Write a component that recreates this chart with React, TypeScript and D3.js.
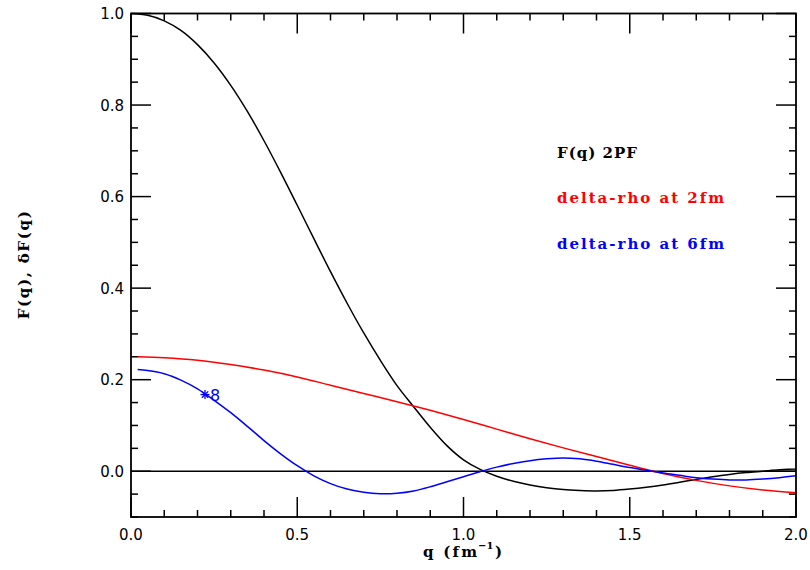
import React from "react";
import * as d3 from "d3";

const qBlack = [0, 0.05, 0.1, 0.15, 0.2, 0.25, 0.3, 0.35, 0.4, 0.45, 0.5, 0.55, 0.6, 0.65, 0.7, 0.75, 0.8, 0.85, 0.9, 0.95, 1.0, 1.05, 1.1, 1.15, 1.2, 1.25, 1.3, 1.35, 1.4, 1.45, 1.5, 1.55, 1.6, 1.65, 1.7, 1.75, 1.8, 1.85, 1.9, 1.95, 2.0];
const fBlack = [1.0, 0.996, 0.984, 0.963, 0.932, 0.892, 0.843, 0.786, 0.722, 0.653, 0.581, 0.508, 0.436, 0.367, 0.302, 0.242, 0.187, 0.141, 0.096, 0.056, 0.025, 0.004, -0.011, -0.022, -0.03, -0.036, -0.04, -0.042, -0.043, -0.042, -0.039, -0.035, -0.03, -0.024, -0.018, -0.012, -0.007, -0.003, 0.0, 0.003, 0.005];

const qRed = [0.02, 0.1, 0.2, 0.3, 0.4, 0.5, 0.6, 0.7, 0.8, 0.9, 1.0, 1.1, 1.2, 1.3, 1.4, 1.5, 1.6, 1.7, 1.8, 1.9, 2.0];
const fRed = [0.25, 0.248, 0.2425, 0.233, 0.221, 0.206, 0.188, 0.17, 0.152, 0.133, 0.113, 0.092, 0.071, 0.051, 0.032, 0.013, -0.005, -0.02, -0.032, -0.041, -0.047];

const qBlue = [0.02, 0.05, 0.1, 0.15, 0.2, 0.25, 0.3, 0.35, 0.4, 0.45, 0.5, 0.55, 0.6, 0.65, 0.7, 0.75, 0.8, 0.85, 0.9, 0.95, 1.0, 1.05, 1.1, 1.15, 1.2, 1.25, 1.3, 1.35, 1.4, 1.45, 1.5, 1.55, 1.6, 1.65, 1.7, 1.75, 1.8, 1.85, 1.9, 1.95, 2.0];
const fBlue = [0.222, 0.22, 0.213, 0.199, 0.18, 0.155, 0.128, 0.098, 0.067, 0.038, 0.012, -0.01, -0.027, -0.039, -0.046, -0.049, -0.048, -0.043, -0.034, -0.023, -0.012, -0.001, 0.009, 0.017, 0.023, 0.027, 0.029, 0.027, 0.022, 0.015, 0.008, 0.002, -0.004, -0.009, -0.014, -0.017, -0.019, -0.019, -0.017, -0.014, -0.01];

const markerQ = [0.2226];
const markerF = [0.1675];
const markerLabels = ["8"];

const xTickLabels = ["0.0", "0.5", "1.0", "1.5", "2.0"];
const yTickLabels = ["0.0", "0.2", "0.4", "0.6", "0.8", "1.0"];
const legendLabels = ["F(q) 2PF", "delta-rho at 2fm", "delta-rho at 6fm"];
const legendColors = ["#000000", "#ff0000", "#0000ff"];

const W = 810;
const H = 570;
const L = 131, R = 796, T = 13.5, B = 517;

export default function App() {
  const x = d3.scaleLinear().domain([0, 2]).range([L, R]);
  const y = d3.scaleLinear().domain([-0.1, 1.0]).range([B, T]);

  const line = d3
    .line<[number, number]>()
    .x((d) => x(d[0]))
    .y((d) => y(d[1]))
    .curve(d3.curveCatmullRom.alpha(0.5));

  const series = [
    { q: qBlack, f: fBlack, color: "#000000" },
    { q: qRed, f: fRed, color: "#ff0000" },
    { q: qBlue, f: fBlue, color: "#0000ff" },
  ];

  const xMinor = d3.range(0, 21).map((i) => i / 10);
  const yMinor = d3.range(-2, 21).map((i) => i / 20);

  const tickSans = "'DejaVu Sans', sans-serif";
  const serif = "'DejaVu Serif', serif";

  return (
    <svg width={W} height={H} style={{ position: "absolute", left: 0, top: 0, background: "#fff" }}>
      <rect x={0} y={0} width={W} height={H} fill="#fff" />
      {xMinor.map((v, i) => {
        const major = i % 5 === 0;
        const len = major ? 20 : 7;
        return (
          <g key={"xt" + i} stroke="#000" strokeWidth={1.5}>
            <line x1={x(v)} x2={x(v)} y1={B} y2={B - len} />
            <line x1={x(v)} x2={x(v)} y1={T} y2={T + len} />
          </g>
        );
      })}
      {yMinor.map((v, i) => {
        const major = Math.abs(Math.round(v * 100) % 20) === 0 && v >= 0;
        const len = major ? 20 : 7;
        return (
          <g key={"yt" + i} stroke="#000" strokeWidth={1.5}>
            <line x1={L} x2={L + len} y1={y(v)} y2={y(v)} />
            <line x1={R} x2={R - len} y1={y(v)} y2={y(v)} />
          </g>
        );
      })}
      <line x1={L} x2={R} y1={y(0)} y2={y(0)} stroke="#000" strokeWidth={1.5} />
      {series.map((s, k) => (
        <path
          key={"s" + k}
          d={line(s.q.map((q, i) => [q, s.f[i]] as [number, number])) || ""}
          fill="none"
          stroke={s.color}
          strokeWidth={1.5}
        />
      ))}
      {markerQ.map((q, i) => {
        const cx = x(q);
        const cy = y(markerF[i]);
        const r = 4.5;
        const d = 0.7071 * r;
        return (
          <g key={"m" + i} stroke="#0000ff" strokeWidth={1.3}>
            <line x1={cx - r} x2={cx + r} y1={cy} y2={cy} />
            <line x1={cx} x2={cx} y1={cy - r} y2={cy + r} />
            <line x1={cx - d} x2={cx + d} y1={cy - d} y2={cy + d} />
            <line x1={cx - d} x2={cx + d} y1={cy + d} y2={cy - d} />
            <text x={cx + 5} y={cy + 6} fill="#0000ff" stroke="none" fontFamily={tickSans} fontSize={16}>
              {markerLabels[i]}
            </text>
          </g>
        );
      })}
      <rect x={L} y={T} width={R - L} height={B - T} fill="none" stroke="#000" strokeWidth={1.8} />
      {xTickLabels.map((t, i) => (
        <text key={"xl" + i} x={x(+t)} y={540} textAnchor="middle" fontFamily={tickSans} fontSize={15}>
          {t}
        </text>
      ))}
      {yTickLabels.map((t, i) => (
        <text key={"yl" + i} x={L - 7} y={y(+t) + 5.5} textAnchor="end" fontFamily={tickSans} fontSize={15}>
          {t}
        </text>
      ))}
      <text x={423} y={557} fontFamily={serif} fontWeight="bold" fontSize={15} textLength={54} lengthAdjust="spacing">
        q (fm
      </text>
      <text x={478} y={549} fontFamily={serif} fontWeight="bold" fontSize={10}>
        −1
      </text>
      <text x={495} y={557} fontFamily={serif} fontWeight="bold" fontSize={15}>
        )
      </text>
      <text
        transform={`translate(29, ${(T + B) / 2}) rotate(-90)`}
        textAnchor="middle"
        fontFamily={serif}
        fontWeight="bold"
        fontSize={15}
        textLength={108}
        lengthAdjust="spacing"
      >
        F(q), δF(q)
      </text>
      {legendLabels.map((t, i) => (
        <text
          key={"lg" + i}
          x={557}
          y={157.5 + i * 45.5}
          fill={legendColors[i]}
          fontFamily={serif}
          fontWeight="bold"
          fontSize={15}
          textLength={i === 0 ? 80 : 167}
          lengthAdjust="spacing"
        >
          {t}
        </text>
      ))}
    </svg>
  );
}
